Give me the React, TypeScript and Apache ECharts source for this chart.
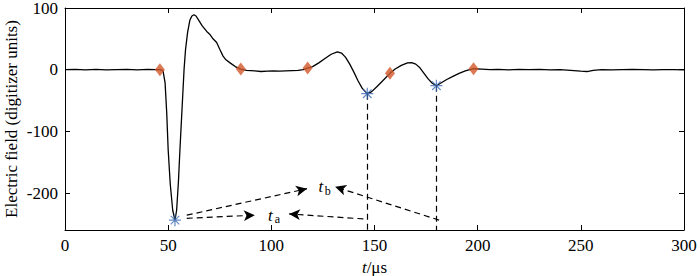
import React, { useEffect, useRef } from "react";
import * as echarts from "echarts";

// waveform (time in µs, field in digitizer units)
const times = [
  0, 5, 10, 15, 20, 25, 30, 35, 40, 44, 46, 47.5, 48.5, 49.3, 50, 51, 52.2, 53.3,
  54.1, 55, 55.7, 56.7, 57.7, 58.4, 59.4, 60.5, 61.5, 62.5, 63.5, 65, 66.5, 68.7,
  70, 71.5, 73.5, 75, 76.6, 78, 80, 82.5, 85.2, 88, 92, 95, 98, 101, 104, 107,
  110, 113, 115.5, 117.6, 120, 123, 126, 129, 132, 134, 136, 138, 140, 142, 144,
  146.5, 148.5, 151, 154, 157.5, 160, 163, 166, 168, 170, 172, 174, 176, 178,
  180, 182, 185, 188, 191, 194, 198, 202, 206, 210, 215, 220, 225, 230, 235,
  240, 245, 250, 253, 256, 260, 265, 270, 275, 280, 285, 290, 295, 300,
];
const values = [
  0, 0.5, -0.5, 0.5, -0.5, 0, 0.5, -0.5, 0.5, 0, 0, -2, -21, -70, -130, -185, -228, -244,
  -228, -180, -130, -65, 0, 32, 60, 80, 87, 89, 87, 79, 71, 62, 58, 51, 44, 33,
  22, 16, 11, 5, 1, -1, -2, -3, -2.5, -2, -2.5, -2, -1.5, -1, 0, 2.7, 5, 11, 18,
  25, 29, 27, 20, 9, -4, -18, -30, -39, -36, -28, -18, -6, 1, 7, 11, 11.5, 9, 3,
  -6, -15, -22, -26, -22, -16, -11, -6, -2, 1.5, 1, 0, 0.5, -0.5, 0.5, 0, 0.5,
  -0.5, 0, -1, -2.5, -3, -1, 0, -0.5, 0, 0.5, 0, -0.5, 0, 0, -0.5,
];

// marked points
const diamondPoints: [number, number][] = [
  [46, 0], [85.2, 1], [117.6, 2.7], [157.5, -6], [198, 1.5],
];
const starPoints: [number, number][] = [
  [53.3, -244], [146.5, -39], [180, -26],
];

// annotation arrows [from, to]
const arrows: [[number, number], [number, number]][] = [
  [[59, -236], [117.3, -193]],
  [[59, -241], [92, -236]],
  [[144.6, -242], [108.6, -234]],
  [[181.3, -244], [130.9, -190]],
];
const dropLines: [number, number][] = [
  [146.5, -39], [180, -26],
];
const labelPoints: [number, number][] = [[99.5, -236], [124, -190]];
const labelSubs = ["a", "b"];

const xTicks = [0, 50, 100, 150, 200, 250, 300];
const yTicks = [-200, -100, 0, 100];
const yMin = -260;
const yMax = 100;
const yName = "Electric field (digitizer units)";

const FONT = "Liberation Serif, Times New Roman, serif";

const starPath =
  "path://M9,0 L11,0 L11,20 L9,20 Z M0,9 L20,9 L20,11 L0,11 Z " +
  "M3.6,2.2 L17.8,16.4 L16.4,17.8 L2.2,3.6 Z " +
  "M17.8,3.6 L3.6,17.8 L2.2,16.4 L16.4,2.2 Z";

export default function App() {
  const ref = useRef<HTMLDivElement>(null);
  useEffect(() => {
    if (!ref.current) return;
    const chart = echarts.init(ref.current, undefined, { renderer: "svg" });
    const axisCommon = {
      axisLine: { show: true, onZero: false, lineStyle: { color: "#000", width: 1 } },
      splitLine: { show: false },
    };
    const tickStyle = (vals: number[]) => ({
      show: true,
      inside: true,
      length: 5,
      lineStyle: { color: "#000" },
      customValues: vals,
    });
    chart.setOption({
      animation: false,
      textStyle: { fontFamily: FONT, color: "#000" },
      grid: { left: 65, right: 16, top: 8, bottom: 46, outerBoundsMode: "none", containLabel: false },
      xAxis: [
        {
          type: "value",
          min: 0,
          max: 300,
          interval: 50,
          position: "bottom",
          name: "{i|t}{n|/μs}",
          nameLocation: "middle",
          nameGap: 27,
          nameTextStyle: {
            fontFamily: FONT,
            fontSize: 17,
            color: "#000",
            rich: {
              i: { fontFamily: FONT, fontSize: 17, fontStyle: "italic", color: "#000" },
              n: { fontFamily: FONT, fontSize: 17, color: "#000" },
            },
          },
          axisTick: tickStyle(xTicks),
          axisLabel: { fontFamily: FONT, fontSize: 17, color: "#000", margin: 7, customValues: xTicks },
          ...axisCommon,
        },
        {
          type: "value",
          min: 0,
          max: 300,
          interval: 50,
          position: "top",
          axisTick: tickStyle(xTicks),
          axisLabel: { show: false },
          ...axisCommon,
        },
      ],
      yAxis: [
        {
          type: "value",
          min: yMin,
          max: yMax,
          position: "left",
          axisTick: tickStyle(yTicks),
          axisLabel: { fontFamily: FONT, fontSize: 17, color: "#000", margin: 7, customValues: yTicks },
          ...axisCommon,
        },
        {
          type: "value",
          min: yMin,
          max: yMax,
          position: "right",
          axisTick: tickStyle(yTicks),
          axisLabel: { show: false },
          ...axisCommon,
        },
      ],
      series: [
        {
          type: "line",
          data: times.map((t, i) => [t, values[i]]),
          showSymbol: false,
          symbol: "none",
          lineStyle: { color: "#000", width: 1.3 },
          silent: true,
          z: 2,
          markLine: {
            silent: true,
            animation: false,
            label: { show: false },
            data: [
              ...dropLines.map(([t, v]) => [
                { coord: [t, v], symbol: "none" },
                { coord: [t, yMin], symbol: "none" },
              ]),
              ...arrows.map(([a, b]) => [
                { coord: a, symbol: "none" },
                { coord: b, symbol: "arrow", symbolSize: [8, 11] },
              ]),
            ],
            lineStyle: { color: "#000", width: 1.2, type: [6, 4] },
            itemStyle: { color: "#000" },
          },
        },
        {
          type: "scatter",
          data: diamondPoints,
          symbol: "diamond",
          symbolSize: [10, 13],
          itemStyle: { color: "#D2582A" },
          z: 4,
        },
        {
          type: "scatter",
          data: starPoints,
          symbol: starPath,
          symbolSize: 12,
          itemStyle: { color: "#3F6DB5" },
          z: 5,
        },
      ],
    });

    // annotations placed through the chart's own scales
    const grid = { xAxisIndex: 0, yAxisIndex: 0 };
    const top = chart.convertToPixel(grid, [0, yMax]) as number[];
    const bottom = chart.convertToPixel(grid, [0, yMin]) as number[];
    const elements: any[] = [
      {
        type: "text",
        x: 11,
        y: (top[1] + bottom[1]) / 2,
        rotation: Math.PI / 2,
        style: {
          text: yName,
          fontFamily: FONT,
          fontSize: 17,
          fill: "#000",
          align: "center",
          verticalAlign: "middle",
        },
      },
    ];
    labelPoints.forEach((pt, i) => {
      const [px, py] = chart.convertToPixel(grid, pt) as number[];
      elements.push({
        type: "text",
        x: px,
        y: py,
        style: {
          text: "t",
          fontFamily: FONT,
          fontSize: 17,
          fontStyle: "italic",
          fill: "#000",
          align: "center",
          verticalAlign: "middle",
        },
      });
      elements.push({
        type: "text",
        x: px + 7,
        y: py + 4,
        style: {
          text: labelSubs[i],
          fontFamily: FONT,
          fontSize: 12,
          fill: "#000",
          align: "center",
          verticalAlign: "middle",
        },
      });
    });
    chart.setOption({ graphic: { elements } });
    return () => chart.dispose();
  }, []);
  return (
    <div
      ref={ref}
      style={{ position: "absolute", left: 0, top: 0, width: 700, height: 276 }}
    />
  );
}
